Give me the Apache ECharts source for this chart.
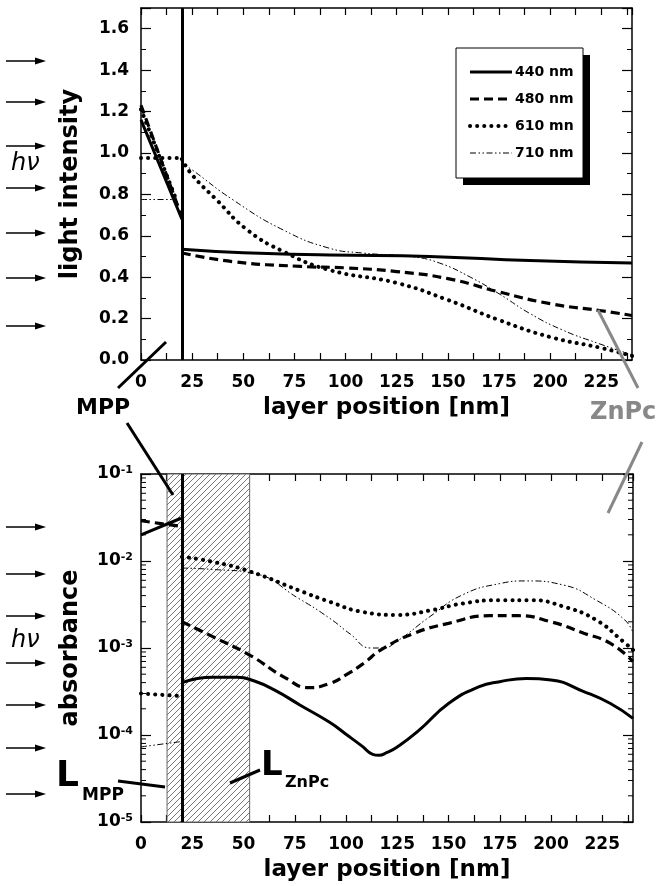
<!DOCTYPE html>
<html>
<head>
<meta charset="utf-8">
<script src="https://cdn.jsdelivr.net/npm/echarts@6/dist/echarts.min.js"></script>
<style>
  html, body { margin: 0; padding: 0; background: #fff; }
  #chart { width: 662px; height: 886px; }
</style>
</head>
<body>
<div id="chart"></div>
<script>
// light intensity (top panel), [position nm, intensity]; '-' breaks the line at the MPP/ZnPc interface
const intensity440 = [[0, 1.16], [20, 0.68], [20, '-'], [20, 0.535], [50, 0.518], [92, 0.507], [141, 0.5], [190, 0.48], [240, 0.469]];
const intensity480 = [[0, 1.23], [20, 0.69], [20, '-'], [20, 0.517], [45, 0.475], [78, 0.452], [100, 0.445], [125, 0.427], [150, 0.393], [175, 0.329], [200, 0.272], [225, 0.238], [240, 0.215]];
const intensity610 = [[0, 1.21], [17, 0.78], [17, '-'], [0, 0.976], [20, 0.976], [20, '-'], [20, 0.97], [25, 0.894], [37, 0.773], [52, 0.628], [70, 0.522], [92, 0.435], [125, 0.372], [150, 0.29], [175, 0.193], [200, 0.111], [225, 0.058], [240, 0.02]];
const intensity710 = [[0, 0.775], [17, 0.775], [17, '-'], [20, 0.95], [25, 0.918], [45, 0.773], [69.5, 0.628], [92, 0.54], [108, 0.517], [133, 0.498], [146, 0.468], [161, 0.4], [175, 0.32], [190, 0.225], [206, 0.145], [223, 0.082], [240, 0.025]];

// absorbance (bottom panel, log scale)
const absorb440 = [[0, 0.020], [19.5, 0.031], [20, '-'], [20, 4.0e-4], [35, 4.6e-4], [47, 4.6e-4], [55, 4.2e-4], [65, 3.3e-4], [77.7, 2.2e-4], [92, 1.4e-4], [100, 1.02e-4], [108, 7.4e-5], [113, 6.0e-5], [116, 5.85e-5], [120, 6.3e-5], [125, 7.3e-5], [135, 1.1e-4], [150, 2.3e-4], [165, 3.6e-4], [175, 4.1e-4], [188, 4.47e-4], [200, 4.3e-4], [216, 3.16e-4], [229, 2.3e-4], [240, 1.55e-4]];
const absorb480 = [[0, 0.029], [19.5, 0.025], [20, '-'], [20, 2.0e-3], [35, 1.35e-3], [53, 8.3e-4], [70, 4.6e-4], [82, 3.5e-4], [92, 3.9e-4], [100, 4.9e-4], [108.7, 6.7e-4], [117, 9.5e-4], [133, 1.47e-3], [150, 1.92e-3], [170, 2.35e-3], [184, 2.35e-3], [200, 2.0e-3], [216, 1.48e-3], [229, 1.13e-3], [240, 7.0e-4]];
const absorb610 = [[0, 3.0e-4], [19.5, 2.8e-4], [20, '-'], [20, 1.12e-2], [35, 9.8e-3], [53, 7.6e-3], [77, 4.6e-3], [92, 3.4e-3], [108, 2.6e-3], [125, 2.4e-3], [141, 2.7e-3], [157, 3.25e-3], [175, 3.55e-3], [190, 3.55e-3], [206, 3.0e-3], [222, 2.1e-3], [235, 1.2e-3], [240, 9.5e-4]];
const absorb710 = [[0, 7.3e-5], [19.5, 8.4e-5], [20, '-'], [20, 8.3e-3], [35, 8.0e-3], [55, 7.2e-3], [77, 3.7e-3], [92, 2.2e-3], [102, 1.45e-3], [112, 1.0e-3], [118, 1.0e-3], [125, 1.2e-3], [141, 2.3e-3], [157, 4.1e-3], [175, 5.5e-3], [188, 5.9e-3], [206, 5.3e-3], [222, 3.55e-3], [236, 2.1e-3], [240, 1.5e-3]];

const seriesNames = ['440 nm', '480 nm', '610 mn', '710 nm'];
const interfaceX = 20;
const mppLayer = [12.7, 20];
const znpcLayer = [20, 53];

// minor ticks for the log axis (2..9 x 10^n)
const logMinorTicks = [];
[-5, -4, -3, -2].forEach(d => { for (let m = 2; m <= 9; m++) logMinorTicks.push([0, m * Math.pow(10, d)]); });

const FONT = '"DejaVu Sans", Arial, sans-serif';

// hatch pattern for the layer areas
const hatch = document.createElement('canvas');
hatch.width = 6; hatch.height = 6;
const hc = hatch.getContext('2d');
hc.fillStyle = '#fff'; hc.fillRect(0, 0, 6, 6);
hc.strokeStyle = '#555'; hc.lineWidth = 0.8;
hc.beginPath();
hc.moveTo(0, 6); hc.lineTo(6, 0);
hc.moveTo(-1, 1); hc.lineTo(1, -1);
hc.moveTo(5, 7); hc.lineTo(7, 5);
hc.stroke();

const styles = [
  { width: 3, type: 'solid' },
  { width: 3.2, type: [9, 5] },
  { width: 4, type: [0.1, 7], cap: 'round' },
  { width: 1, type: [6, 2.5, 1.5, 2.5, 1.5, 2.5] }
];

const labelFont = { fontFamily: FONT, fontWeight: 'bold', fontSize: 17, color: '#000' };

function xAxisCfg(grid, pos) {
  return {
    type: 'value', gridIndex: grid, position: pos, min: 0, max: 240, interval: 12.5,
    axisLine: { show: true, onZero: false, lineStyle: { color: '#000', width: 1.5 } },
    axisTick: { show: true, inside: true, length: 7, lineStyle: { color: '#000', width: 1.2 } },
    splitLine: { show: false },
    axisLabel: pos === 'bottom' ? Object.assign({
      margin: 14, showMaxLabel: false,
      formatter: v => (v % 25 === 0 ? String(v) : '')
    }, labelFont) : { show: false },
    name: pos === 'bottom' ? 'layer position [nm]' : '',
    nameLocation: 'middle', nameGap: 37,
    nameTextStyle: { fontFamily: FONT, fontWeight: 'bold', fontSize: 23, color: '#000' }
  };
}

function lineSeries(name, data, i, xi, yi) {
  return {
    name: name, type: 'line', xAxisIndex: xi, yAxisIndex: yi, data: data,
    symbol: 'none', smooth: 0.5, connectNulls: false,
    lineStyle: { color: '#000', width: styles[i].width, type: styles[i].type, cap: styles[i].cap || 'butt' },
    itemStyle: { color: '#000' }, z: 3
  };
}

const series = [];
[intensity440, intensity480, intensity610, intensity710].forEach((d, i) => {
  const s = lineSeries(seriesNames[i], d, i, 0, 0);
  if (i === 0) {
    s.markLine = {
      silent: true, symbol: 'none', label: { show: false },
      lineStyle: { color: '#000', width: 3, type: 'solid' },
      data: [{ xAxis: interfaceX }]
    };
  }
  series.push(s);
});
[absorb440, absorb480, absorb610, absorb710].forEach((d, i) => {
  const s = lineSeries(seriesNames[i], d, i, 2, 2);
  if (i === 0) {
    s.markLine = {
      silent: true, symbol: 'none', label: { show: false },
      lineStyle: { color: '#000', width: 3, type: 'solid' },
      data: [{ xAxis: interfaceX }]
    };
    s.markArea = {
      silent: true,
      itemStyle: { color: { image: hatch, repeat: 'repeat' }, borderColor: '#666', borderWidth: 1 },
      data: [[{ xAxis: mppLayer[0] }, { xAxis: mppLayer[1] }], [{ xAxis: znpcLayer[0] }, { xAxis: znpcLayer[1] }]]
    };
  }
  series.push(s);
});
series.push({
  type: 'custom', xAxisIndex: 2, yAxisIndex: 2, data: logMinorTicks, silent: true, z: 4,
  encode: { x: 0, y: 1 },
  renderItem: (params, api) => {
    const v = api.value(1);
    const l = api.coord([0, v]);
    const r = api.coord([240, v]);
    const st = { stroke: '#000', lineWidth: 1 };
    return {
      type: 'group', children: [
        { type: 'line', shape: { x1: l[0], y1: l[1], x2: l[0] + 5, y2: l[1] }, style: st },
        { type: 'line', shape: { x1: r[0], y1: r[1], x2: r[0] - 5, y2: r[1] }, style: st }
      ]
    };
  }
});

// arrows, legend frame and annotations
const graphics = [
  { type: 'rect', shape: { x: 463, y: 55, width: 127, height: 130 }, style: { fill: '#000' }, z: 1 },
  { type: 'rect', shape: { x: 456, y: 48, width: 127, height: 130 }, style: { fill: '#fff', stroke: '#000', lineWidth: 1 }, z: 1 }
];
function arrow(y) {
  graphics.push({ type: 'line', shape: { x1: 6, y1: y, x2: 38, y2: y }, style: { stroke: '#000', lineWidth: 1.5 } });
  graphics.push({ type: 'polygon', shape: { points: [[46, y], [35, y - 3.5], [35, y + 3.5]] }, style: { fill: '#000' } });
}
[61, 102, 146, 188, 233, 278, 326, 527, 574, 616, 663, 705, 748, 794].forEach(arrow);
function txt(t, x, y, size, opts) {
  graphics.push({
    type: 'text', x: x, y: y, style: Object.assign({
      text: t, font: 'bold ' + size + 'px ' + FONT, fill: '#000',
      textAlign: 'left', textVerticalAlign: 'middle'
    }, opts || {})
  });
}
function seg(x1, y1, x2, y2, color) {
  graphics.push({ type: 'line', shape: { x1, y1, x2, y2 }, style: { stroke: color || '#000', lineWidth: 3 }, z: 10 });
}
txt('h\u03BD', 11, 164, 24, { font: 'italic 24px ' + FONT });
txt('h\u03BD', 11, 641, 24, { font: 'italic 24px ' + FONT });
txt('MPP', 76, 408, 22);
seg(118, 388, 166, 342);
seg(127, 423, 173, 495);
txt('ZnPc', 590, 413, 24, { fill: '#888' });
seg(598, 310, 638, 388, '#888');
seg(642, 442, 608, 513, '#888');
txt('L', 56, 777, 36);
txt('MPP', 82, 796, 17);
seg(118, 781, 165, 787);
txt('L', 261, 766, 34);
txt('ZnPc', 285, 783, 16);
seg(230, 783, 260, 770);

const chart = echarts.init(document.getElementById('chart'), null, { renderer: 'canvas' });
chart.setOption({
  animation: false,
  backgroundColor: '#fff',
  grid: [
    { left: 141, top: 8, width: 491, height: 352 },
    { left: 141, top: 474, width: 492, height: 348 }
  ],
  xAxis: [xAxisCfg(0, 'bottom'), xAxisCfg(0, 'top'), xAxisCfg(1, 'bottom'), xAxisCfg(1, 'top')],
  yAxis: [0, 1].map(k => ({
    type: 'value', gridIndex: 0, position: k === 0 ? 'left' : 'right', min: 0, max: 1.7, interval: 0.2,
    axisLine: { show: true, onZero: false, lineStyle: { color: '#000', width: 1.5 } },
    axisTick: { show: true, inside: true, length: 10, lineStyle: { color: '#000', width: 1.2 } },
    minorTick: { show: true, splitNumber: 2, length: 5, lineStyle: { color: '#000', width: 1 } },
    splitLine: { show: false },
    axisLabel: k === 0 ? Object.assign({ margin: 12, showMaxLabel: false, formatter: v => v.toFixed(1) }, labelFont) : { show: false },
    name: k === 0 ? 'light intensity' : '', nameLocation: 'middle', nameGap: 58,
    nameTextStyle: { fontFamily: FONT, fontWeight: 'bold', fontSize: 24, color: '#000' }
  })).concat([0, 1].map(k => ({
    type: 'log', logBase: 10, gridIndex: 1, position: k === 0 ? 'left' : 'right', min: 1e-5, max: 1e-1,
    axisLine: { show: true, onZero: false, lineStyle: { color: '#000', width: 1.5 } },
    axisTick: { show: true, inside: true, length: 10, lineStyle: { color: '#000', width: 1.2 } },
    splitLine: { show: false },
    axisLabel: k === 0 ? {
      margin: 8,
      formatter: v => '{b|10}{s|' + Math.round(Math.log10(v)) + '}',
      rich: {
        b: { fontFamily: FONT, fontWeight: 'bold', fontSize: 17, color: '#000' },
        s: { fontFamily: FONT, fontWeight: 'bold', fontSize: 11, color: '#000', verticalAlign: 'top', padding: [0, 0, 8, 0] }
      }
    } : { show: false },
    name: k === 0 ? 'absorbance' : '', nameLocation: 'middle', nameGap: 58,
    nameTextStyle: { fontFamily: FONT, fontWeight: 'bold', fontSize: 24, color: '#000' }
  }))),
  legend: {
    data: seriesNames, orient: 'vertical', left: 456, top: 48,
    padding: [17, 12, 18, 12], itemWidth: 42, itemHeight: 14, itemGap: 13,
    itemStyle: { opacity: 0 },
    lineStyle: { width: 'inherit' },
    textStyle: { fontFamily: FONT, fontWeight: 'bold', fontSize: 14, color: '#000', padding: [0, 0, 0, -2] },
    selectedMode: false, z: 5
  },
  series: series,
  graphic: graphics
});
</script>
</body>
</html>
